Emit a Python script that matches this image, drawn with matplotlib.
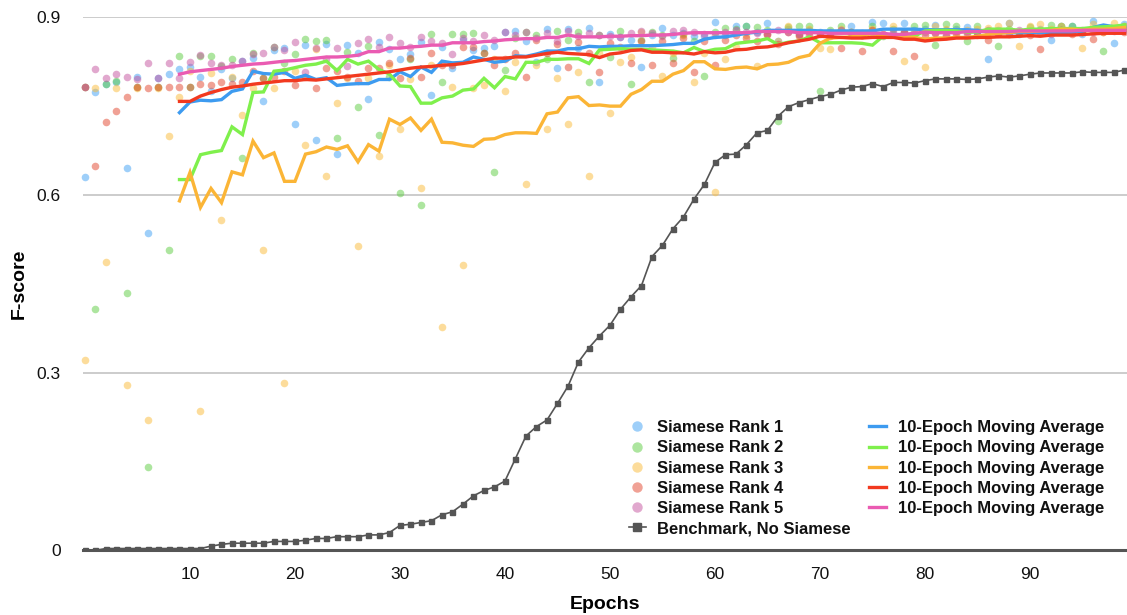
import numpy as np
import matplotlib
matplotlib.use("Agg")
import matplotlib.pyplot as plt
from matplotlib.lines import Line2D

plt.rcParams['font.family'] = ['Liberation Sans', 'DejaVu Sans']

epochs = np.arange(100)
ma_epochs = np.arange(9, 100)

rank1 = [0.630, 0.774, 0.787, 0.790, 0.645, 0.800, 0.536, 0.797, 0.804, 0.813,
         0.816, 0.800, 0.776, 0.813, 0.797, 0.827, 0.831, 0.759, 0.845, 0.848,
         0.719, 0.854, 0.693, 0.855, 0.669, 0.854, 0.840, 0.762, 0.859, 0.846,
         0.830, 0.838, 0.858, 0.769, 0.850, 0.814, 0.862, 0.845, 0.848, 0.852,
         0.875, 0.877, 0.860, 0.825, 0.880, 0.815, 0.880, 0.848, 0.882, 0.790,
         0.872, 0.866, 0.862, 0.816, 0.870, 0.882, 0.870, 0.874, 0.868, 0.868,
         0.892, 0.870, 0.885, 0.885, 0.876, 0.890, 0.860, 0.880, 0.872, 0.878,
         0.875, 0.872, 0.878, 0.886, 0.870, 0.892, 0.890, 0.872, 0.890, 0.878,
         0.880, 0.887, 0.878, 0.880, 0.884, 0.876, 0.829, 0.878, 0.891, 0.872,
         0.875, 0.880, 0.862, 0.886, 0.885, 0.872, 0.894, 0.880, 0.856, 0.888]
rank2 = [0.783, 0.407, 0.787, 0.793, 0.435, 0.783, 0.140, 0.783, 0.507, 0.834,
         0.782, 0.835, 0.835, 0.818, 0.829, 0.662, 0.840, 0.798, 0.850, 0.822,
         0.838, 0.863, 0.860, 0.862, 0.697, 0.842, 0.749, 0.852, 0.701, 0.800,
         0.604, 0.830, 0.583, 0.872, 0.790, 0.872, 0.872, 0.873, 0.840, 0.639,
         0.811, 0.865, 0.875, 0.870, 0.830, 0.877, 0.862, 0.875, 0.790, 0.870,
         0.833, 0.877, 0.788, 0.862, 0.876, 0.870, 0.832, 0.872, 0.860, 0.801,
         0.875, 0.882, 0.880, 0.885, 0.884, 0.878, 0.725, 0.883, 0.885, 0.885,
         0.775, 0.878, 0.886, 0.876, 0.870, 0.886, 0.868, 0.880, 0.875, 0.886,
         0.887, 0.853, 0.888, 0.886, 0.860, 0.886, 0.875, 0.851, 0.880, 0.875,
         0.883, 0.878, 0.887, 0.885, 0.886, 0.876, 0.880, 0.843, 0.880, 0.885]
rank3 = [0.322, 0.780, 0.486, 0.781, 0.279, 0.780, 0.220, 0.780, 0.699, 0.765,
         0.810, 0.236, 0.806, 0.558, 0.800, 0.735, 0.780, 0.507, 0.780, 0.282,
         0.810, 0.685, 0.846, 0.632, 0.756, 0.798, 0.513, 0.797, 0.665, 0.820,
         0.712, 0.795, 0.611, 0.820, 0.377, 0.783, 0.481, 0.780, 0.785, 0.830,
         0.775, 0.825, 0.618, 0.820, 0.712, 0.798, 0.719, 0.808, 0.632, 0.840,
         0.739, 0.825, 0.833, 0.875, 0.850, 0.801, 0.840, 0.870, 0.791, 0.840,
         0.605, 0.829, 0.850, 0.870, 0.818, 0.870, 0.860, 0.885, 0.870, 0.880,
         0.848, 0.846, 0.880, 0.875, 0.870, 0.880, 0.872, 0.885, 0.826, 0.875,
         0.816, 0.885, 0.880, 0.875, 0.878, 0.880, 0.882, 0.885, 0.890, 0.852,
         0.885, 0.888, 0.880, 0.885, 0.875, 0.849, 0.888, 0.875, 0.890, 0.885]
rank4 = [0.783, 0.649, 0.724, 0.741, 0.766, 0.783, 0.780, 0.783, 0.783, 0.782,
         0.783, 0.787, 0.785, 0.791, 0.788, 0.791, 0.809, 0.797, 0.800, 0.810,
         0.785, 0.800, 0.781, 0.814, 0.810, 0.800, 0.792, 0.814, 0.814, 0.823,
         0.797, 0.832, 0.800, 0.840, 0.820, 0.820, 0.850, 0.850, 0.840, 0.820,
         0.830, 0.839, 0.800, 0.862, 0.840, 0.855, 0.816, 0.858, 0.840, 0.808,
         0.856, 0.850, 0.823, 0.860, 0.819, 0.860, 0.823, 0.865, 0.808, 0.860,
         0.819, 0.862, 0.870, 0.865, 0.860, 0.872, 0.855, 0.875, 0.868, 0.870,
         0.872, 0.868, 0.848, 0.875, 0.843, 0.878, 0.870, 0.843, 0.875, 0.835,
         0.870, 0.874, 0.868, 0.872, 0.876, 0.870, 0.862, 0.874, 0.872, 0.876,
         0.870, 0.846, 0.875, 0.878, 0.872, 0.876, 0.863, 0.875, 0.878, 0.876]
rank5 = [0.783, 0.813, 0.798, 0.805, 0.800, 0.795, 0.822, 0.797, 0.823, 0.798,
         0.825, 0.837, 0.822, 0.820, 0.820, 0.827, 0.838, 0.840, 0.850, 0.845,
         0.858, 0.808, 0.849, 0.830, 0.849, 0.817, 0.856, 0.864, 0.850, 0.866,
         0.856, 0.850, 0.867, 0.860, 0.856, 0.838, 0.865, 0.860, 0.870, 0.862,
         0.875, 0.870, 0.876, 0.865, 0.874, 0.860, 0.877, 0.868, 0.874, 0.870,
         0.868, 0.866, 0.874, 0.877, 0.874, 0.868, 0.877, 0.878, 0.876, 0.872,
         0.870, 0.875, 0.878, 0.876, 0.874, 0.872, 0.878, 0.876, 0.872, 0.875,
         0.874, 0.876, 0.878, 0.872, 0.874, 0.876, 0.872, 0.875, 0.873, 0.872,
         0.876, 0.874, 0.870, 0.877, 0.872, 0.875, 0.878, 0.872, 0.876, 0.878,
         0.874, 0.876, 0.872, 0.878, 0.876, 0.878, 0.875, 0.880, 0.877, 0.879]

ma1 = [0.739, 0.757, 0.760, 0.759, 0.761, 0.775, 0.779, 0.809, 0.805, 0.804,
       0.807, 0.797, 0.802, 0.795, 0.798, 0.785, 0.787, 0.788, 0.788, 0.795,
       0.795, 0.808, 0.800, 0.816, 0.807, 0.826, 0.823, 0.824, 0.833, 0.829,
       0.824, 0.826, 0.835, 0.834, 0.838, 0.843, 0.843, 0.847, 0.847, 0.851,
       0.850, 0.851, 0.851, 0.852, 0.852, 0.852, 0.853, 0.854, 0.856, 0.856,
       0.863, 0.866, 0.867, 0.870, 0.873, 0.875, 0.878, 0.878, 0.878, 0.878,
       0.878, 0.877, 0.877, 0.877, 0.877, 0.877, 0.877, 0.880, 0.880, 0.880,
       0.880, 0.879, 0.879, 0.879, 0.879, 0.879, 0.878, 0.877, 0.874, 0.874,
       0.874, 0.874, 0.874, 0.874, 0.874, 0.875, 0.877, 0.883, 0.887, 0.884,
       0.884]
ma2 = [0.626, 0.626, 0.668, 0.672, 0.675, 0.715, 0.702, 0.773, 0.774, 0.809,
       0.811, 0.815, 0.819, 0.821, 0.826, 0.810, 0.829, 0.821, 0.826, 0.812,
       0.804, 0.784, 0.783, 0.755, 0.755, 0.764, 0.767, 0.777, 0.779, 0.797,
       0.781, 0.800, 0.796, 0.824, 0.824, 0.829, 0.829, 0.830, 0.830, 0.822,
       0.845, 0.846, 0.847, 0.846, 0.846, 0.845, 0.844, 0.843, 0.840, 0.849,
       0.842, 0.846, 0.847, 0.856, 0.858, 0.860, 0.864, 0.854, 0.858, 0.860,
       0.867, 0.857, 0.857, 0.857, 0.857, 0.856, 0.853, 0.868, 0.868, 0.866,
       0.868, 0.877, 0.878, 0.878, 0.877, 0.875, 0.875, 0.880, 0.880, 0.880,
       0.878, 0.880, 0.880, 0.881, 0.881, 0.881, 0.881, 0.883, 0.884, 0.885,
       0.887]
ma3 = [0.590, 0.638, 0.579, 0.611, 0.587, 0.639, 0.634, 0.691, 0.663, 0.671,
       0.623, 0.623, 0.669, 0.673, 0.681, 0.677, 0.683, 0.656, 0.685, 0.674,
       0.728, 0.719, 0.730, 0.709, 0.728, 0.689, 0.688, 0.684, 0.682, 0.694,
       0.695, 0.702, 0.705, 0.705, 0.704, 0.737, 0.740, 0.764, 0.766, 0.751,
       0.752, 0.750, 0.750, 0.770, 0.778, 0.792, 0.792, 0.804, 0.810, 0.825,
       0.825, 0.813, 0.812, 0.815, 0.816, 0.813, 0.820, 0.821, 0.824, 0.832,
       0.836, 0.856, 0.865, 0.866, 0.867, 0.870, 0.872, 0.870, 0.869, 0.867,
       0.866, 0.863, 0.865, 0.865, 0.866, 0.866, 0.868, 0.871, 0.873, 0.874,
       0.876, 0.876, 0.877, 0.878, 0.880, 0.880, 0.878, 0.880, 0.880, 0.881,
       0.883]
ma4 = [0.758, 0.758, 0.767, 0.773, 0.778, 0.782, 0.784, 0.787, 0.789, 0.791,
       0.793, 0.793, 0.795, 0.794, 0.796, 0.798, 0.800, 0.802, 0.804, 0.806,
       0.808, 0.811, 0.814, 0.816, 0.817, 0.819, 0.820, 0.822, 0.825, 0.828,
       0.831, 0.831, 0.833, 0.833, 0.836, 0.839, 0.841, 0.839, 0.838, 0.837,
       0.832, 0.838, 0.840, 0.844, 0.845, 0.841, 0.841, 0.840, 0.840, 0.838,
       0.842, 0.840, 0.841, 0.845, 0.846, 0.849, 0.850, 0.853, 0.857, 0.860,
       0.863, 0.868, 0.867, 0.866, 0.865, 0.865, 0.866, 0.866, 0.866, 0.863,
       0.863, 0.860, 0.862, 0.863, 0.865, 0.865, 0.866, 0.866, 0.867, 0.867,
       0.868, 0.869, 0.868, 0.870, 0.870, 0.870, 0.871, 0.872, 0.873, 0.873,
       0.873]
ma5 = [0.804, 0.808, 0.810, 0.812, 0.814, 0.817, 0.819, 0.821, 0.822, 0.824,
       0.826, 0.827, 0.829, 0.831, 0.833, 0.833, 0.834, 0.836, 0.842, 0.842,
       0.848, 0.848, 0.850, 0.851, 0.853, 0.853, 0.857, 0.857, 0.857, 0.859,
       0.860, 0.862, 0.863, 0.864, 0.864, 0.866, 0.866, 0.870, 0.867, 0.867,
       0.867, 0.868, 0.868, 0.869, 0.869, 0.870, 0.870, 0.871, 0.873, 0.874,
       0.874, 0.874, 0.874, 0.874, 0.874, 0.876, 0.876, 0.876, 0.876, 0.874,
       0.874, 0.874, 0.873, 0.873, 0.873, 0.873, 0.873, 0.873, 0.871, 0.871,
       0.873, 0.875, 0.874, 0.874, 0.874, 0.876, 0.876, 0.876, 0.876, 0.876,
       0.877, 0.877, 0.877, 0.877, 0.877, 0.877, 0.878, 0.878, 0.878, 0.878,
       0.878]

benchmark = [0.000, 0.000, 0.003, 0.003, 0.003, 0.003, 0.003, 0.003, 0.003, 0.003,
             0.003, 0.003, 0.007, 0.010, 0.012, 0.012, 0.012, 0.012, 0.015, 0.015,
             0.015, 0.017, 0.020, 0.020, 0.023, 0.023, 0.023, 0.026, 0.026, 0.030,
             0.042, 0.044, 0.047, 0.050, 0.060, 0.065, 0.078, 0.092, 0.101, 0.107,
             0.117, 0.155, 0.193, 0.209, 0.220, 0.248, 0.277, 0.318, 0.342, 0.362,
             0.380, 0.407, 0.428, 0.447, 0.496, 0.515, 0.543, 0.563, 0.593, 0.618,
             0.655, 0.668, 0.669, 0.685, 0.705, 0.709, 0.733, 0.749, 0.756, 0.761,
             0.766, 0.770, 0.777, 0.782, 0.783, 0.788, 0.783, 0.790, 0.790, 0.789,
             0.793, 0.796, 0.796, 0.796, 0.795, 0.796, 0.799, 0.801, 0.799, 0.801,
             0.804, 0.806, 0.806, 0.806, 0.806, 0.808, 0.807, 0.807, 0.807, 0.811]

scatter_labels = ["Siamese Rank 1", "Siamese Rank 2", "Siamese Rank 3",
                  "Siamese Rank 4", "Siamese Rank 5"]
ma_label = "10-Epoch Moving Average"
bench_label = "Benchmark, No Siamese"
x_ticks = [10, 20, 30, 40, 50, 60, 70, 80, 90]
y_ticks = [0, 0.3, 0.6, 0.9]
y_ticklabels = ["0", "0.3", "0.6", "0.9"]

dot_colors = ['#3fa0f5', '#5ccc40', '#fbbb38', '#e2452d', '#c4539e']
line_colors = ['#3d9bf0', '#7ff04c', '#fbb536', '#f2391f', '#ea5bb2']

fig = plt.figure(figsize=(11.27, 6.15), dpi=100)
ax = fig.add_axes([83 / 1127, 1 - 550.3 / 615, 1044 / 1127, 533 / 615])

ranks = [rank1, rank2, rank3, rank4, rank5]
mas = [ma1, ma2, ma3, ma4, ma5]

for vals, c, lab in zip(ranks, dot_colors, scatter_labels):
    ax.scatter(epochs, vals, s=30, color=c, alpha=0.5, linewidths=0,
               zorder=2, clip_on=False, label=lab)

for vals, c in zip(mas, line_colors):
    ax.plot(ma_epochs, vals, color=c, lw=2.4, zorder=3, label=ma_label,
            solid_joinstyle='miter')

ax.plot(epochs, benchmark, color='#555555', lw=1.2, marker='s',
        markersize=3.6, zorder=4, label=bench_label)

ax.set_xlim(-0.19, 99.24)
ax.set_ylim(0, 0.9)
ax.set_xticks(x_ticks)
ax.set_yticks(y_ticks)
ax.set_yticklabels(y_ticklabels)
ax.tick_params(axis='both', length=0, labelsize=12.5, colors='#111111')
ax.tick_params(axis='y', pad=16)
ax.tick_params(axis='x', pad=12)
ax.grid(axis='y', color='#c8c8c8', lw=1.3)
ax.set_axisbelow(True)
for s in ['top', 'right', 'left']:
    ax.spines[s].set_visible(False)
ax.spines['bottom'].set_color('#555555')
ax.spines['bottom'].set_linewidth(2.2)
ax.spines['bottom'].set_zorder(5)

ax.set_xlabel("Epochs", fontsize=14, fontweight='bold', labelpad=10)
ax.set_ylabel("F-score", fontsize=14, fontweight='bold', labelpad=6)

leg_handles = []
for c in dot_colors:
    leg_handles.append(Line2D([], [], marker='o', ls='none', markersize=7.5,
                              markerfacecolor=c, markeredgewidth=0, alpha=0.5))
leg_handles.append(Line2D([], [], color='#555555', lw=1.2, marker='s', markersize=6))
for c in line_colors:
    leg_handles.append(Line2D([], [], color=c, lw=2.4))
leg_labels = scatter_labels + [bench_label] + [ma_label] * 5

leg = ax.legend(leg_handles, leg_labels, ncol=2, loc='upper left',
                bbox_to_anchor=(0.523, 0.244), frameon=False,
                prop={'weight': 'bold', 'size': 12}, handlelength=1.0,
                handletextpad=0.7, labelspacing=0.31, columnspacing=1.1,
                borderpad=0, borderaxespad=0)
for t in leg.get_texts():
    t.set_color('#111111')

fig.savefig("out.png", dpi=100)
